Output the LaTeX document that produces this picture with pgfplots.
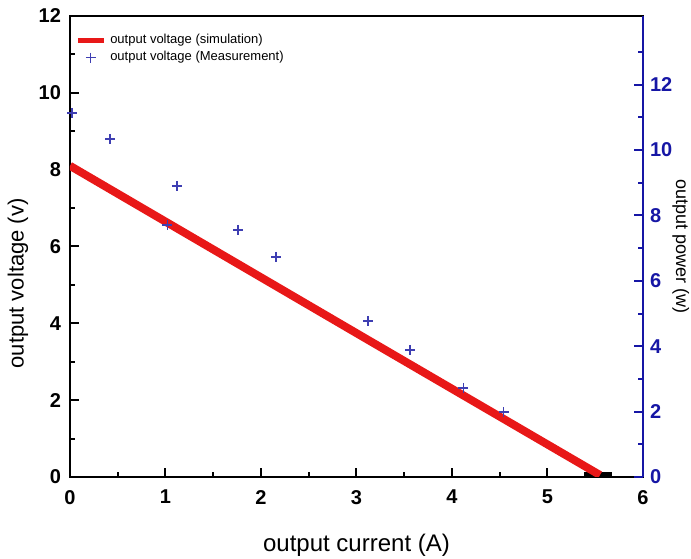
\documentclass[border=0pt]{standalone}
\usepackage{fontspec}
\setmainfont{Liberation Sans}
\usepackage{pgfplots}
\pgfplotsset{compat=1.18}
\definecolor{simred}{RGB}{232,24,24}
\definecolor{measblue}{RGB}{62,62,178}
\definecolor{axblue}{RGB}{22,22,165}

\begin{document}
\begin{tikzpicture}
\begin{axis}[
  scale only axis, width=286.5pt, height=230.5pt,
  xmin=0, xmax=6, ymin=0, ymax=12,
  xtick={0,...,6}, minor xtick={0.5,1.5,...,5.5},
  ytick={0,2,...,12}, minor ytick={1,3,...,11},
  xtick pos=bottom, ytick pos=left,
  tick align=inside,
  major tick length=4.5pt, minor tick length=2.5pt,
  axis line style={line width=1.4pt},
  every tick/.style={line width=1pt, black},
  /pgf/number format/assume math mode=true,
  tick label style={font=\bfseries\fontsize{10}{12}\selectfont},
  xticklabel style={yshift=-3pt},
  yticklabel style={xshift=-1pt},
  xlabel={output current (A)},
  ylabel={output voltage (v)},
  xlabel style={font=\fontsize{12}{14}\selectfont, at={(axis description cs:0.5,-0.1475)}, anchor=center},
  ylabel style={font=\fontsize{11}{13}\selectfont, at={(axis description cs:-0.091,0.42)}, anchor=center},
  legend style={at={(axis description cs:0.005,0.975)}, anchor=north west,
    draw=none, fill=none, font=\fontsize{6.5}{7.5}\selectfont,
    row sep=-1.5pt, inner sep=1pt},
  legend cell align=left,
]
\addlegendimage{legend image code/.code={\draw[simred, line width=2.5pt] (0pt,0pt) -- (13pt,0pt);}}
\addlegendentry{output voltage (simulation)}
\addlegendimage{legend image code/.code={\draw[measblue, line width=0.6pt, mark=+, mark size=2.5pt, only marks] plot coordinates {(6.5pt,0pt)};}}
\addlegendentry{output voltage (Measurement)}
\addplot[forget plot, black, line width=3pt] coordinates {(5.38,0.04) (5.68,0.04)};
\addplot[forget plot, simred, line width=4pt] coordinates {(0,8.1) (3.12,3.57) (5.55,0.05)};
\addplot[forget plot, measblue, only marks, mark=+, mark size=2.5pt, line width=0.8pt] coordinates {
  (0.02,9.48) (0.42,8.80) (1.02,6.56) (1.12,7.58) (1.76,6.43)
  (2.16,5.73) (3.12,4.06) (3.56,3.31) (4.12,2.32) (4.54,1.69)
};
\coordinate (bl) at (rel axis cs:0,0);
\coordinate (tr) at (rel axis cs:1,1);
\end{axis}
\begin{axis}[
  scale only axis, width=286.5pt, height=230.5pt,
  xmin=0, xmax=6, ymin=0, ymax=14.1,
  axis x line=none, axis y line*=right,
  y axis line style={axblue, line width=1.4pt, -},
  ytick={0,2,...,12}, minor ytick={1,3,...,13},
  tick align=inside,
  major tick length=4.5pt, minor tick length=2.5pt,
  every tick/.style={line width=1pt, axblue},
  /pgf/number format/assume math mode=true,
  yticklabel style={font=\bfseries\fontsize{10}{12}\selectfont, text=axblue},
  ylabel={output power (w)},
  ylabel style={font=\fontsize{9}{11}\selectfont, at={(axis description cs:1.066,0.5)}, anchor=center, rotate=180},
]
\addplot[draw=none] coordinates {(0,0)};
\end{axis}
\pgfresetboundingbox
\path ([shift={(-35pt,-41pt)}]bl) rectangle ([shift={(24pt,8pt)}]tr);
\end{tikzpicture}
\end{document}
